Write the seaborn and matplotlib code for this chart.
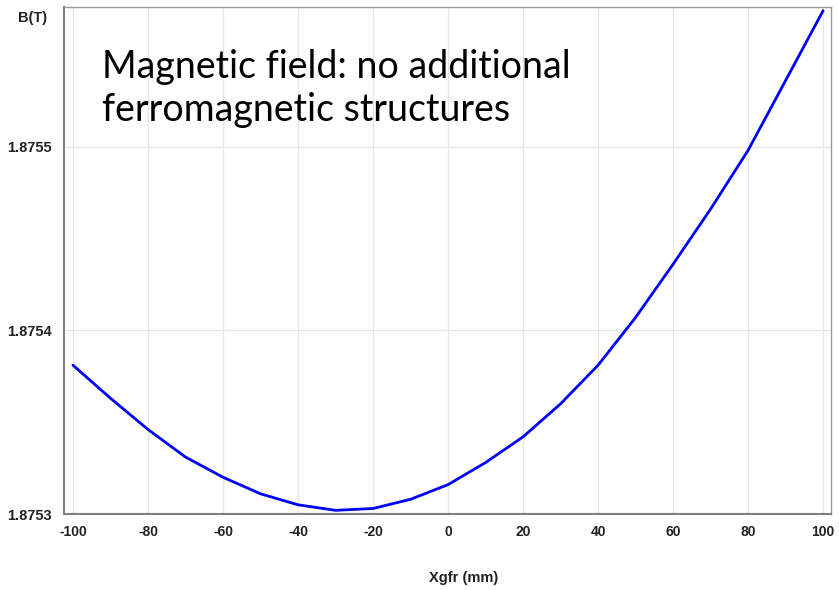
import matplotlib
matplotlib.use("Agg")
import matplotlib.pyplot as plt
import seaborn as sns
import pandas as pd

# Data
xgfr_mm = [-100, -90, -80, -70, -60, -50, -40, -30, -20, -10, 0,
           10, 20, 30, 40, 50, 60, 70, 80, 90, 100]
b_tesla = [1.875381, 1.875363, 1.875346, 1.875331, 1.875320, 1.875311,
           1.875305, 1.875302, 1.875303, 1.875308, 1.875316, 1.875328,
           1.875342, 1.875360, 1.875381, 1.875407, 1.875436, 1.875466,
           1.875498, 1.875536, 1.875574]
x_ticks = [-100, -80, -60, -40, -20, 0, 20, 40, 60, 80, 100]
y_ticks = [1.8753, 1.8754, 1.8755]
y_tick_labels = ["1.8753", "1.8754", "1.8755"]
annotation = "Magnetic field: no additional\nferromagnetic structures"

sns.set_style("white")
plt.rcParams["font.family"] = ["Liberation Sans", "DejaVu Sans"]

df = pd.DataFrame({"x": xgfr_mm, "B": b_tesla})

fig = plt.figure(figsize=(8.39, 5.90), dpi=100)
ax = fig.add_axes([64/839, 1 - 514/590, (831 - 64)/839, (514 - 7)/590])

sns.lineplot(data=df, x="x", y="B", ax=ax, color="#0000FF", linewidth=2.0)

ax.set_xlim(-102.4, 102.1)
ax.set_ylim(1.8753, 1.875576)
ax.set_xticks(x_ticks)
ax.set_xticklabels([str(t) for t in x_ticks], fontsize=10, fontweight="bold",
                   color="#222222")
ax.set_yticks(y_ticks)
ax.set_yticklabels(y_tick_labels, fontsize=10.5, fontweight="bold",
                   color="#222222")

ax.grid(True, color="#e6e6e6", linewidth=0.9)
ax.set_axisbelow(True)
for side in ["left", "bottom"]:
    ax.spines[side].set_color("#808080")
    ax.spines[side].set_linewidth(1.5)
for side in ["top", "right"]:
    ax.spines[side].set_visible(True)
    ax.spines[side].set_color("#999999")
    ax.spines[side].set_linewidth(1.0)

ax.tick_params(axis="x", direction="in", length=3, color="#808080", pad=8)
ax.tick_params(axis="y", direction="out", length=3, color="#808080", pad=6)

ax.set_xlabel("")
ax.set_ylabel("")
fig.text(464/839, 1 - 578/590, "Xgfr (mm)", ha="center", va="center",
         fontsize=10.5, fontweight="bold", color="#222222")
fig.text(33/839, 1 - 18/590, "B(T)", ha="center", va="center",
         fontsize=10.5, fontweight="bold", color="#222222")

ax.text(102/839, 1 - 49/590, annotation, transform=fig.transFigure,
        ha="left", va="top", fontsize=27, family=["Lato", "DejaVu Sans"],
        linespacing=1.25, color="black")

fig.savefig("out.png", dpi=100)
